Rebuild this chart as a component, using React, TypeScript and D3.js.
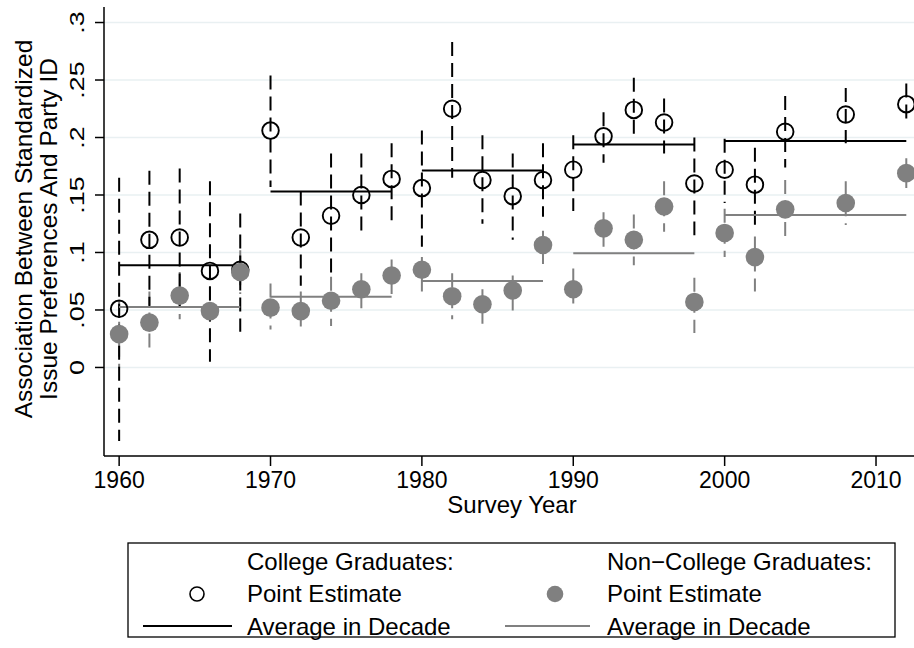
import React from "react";
import * as d3 from "d3";

// Survey years (ANES waves)
const years = [1960, 1962, 1964, 1966, 1968, 1970, 1972, 1974, 1976, 1978, 1980, 1982, 1984, 1986, 1988, 1990, 1992, 1994, 1996, 1998, 2000, 2002, 2004, 2008, 2012];

// College graduates: point estimate and confidence bounds
const collegeEst = [0.051, 0.111, 0.113, 0.084, 0.085, 0.206, 0.113, 0.132, 0.150, 0.164, 0.156, 0.225, 0.163, 0.149, 0.163, 0.172, 0.201, 0.224, 0.213, 0.160, 0.172, 0.159, 0.205, 0.220, 0.229];
const collegeLo = [-0.064, 0.052, 0.053, 0.005, 0.031, 0.157, 0.071, 0.077, 0.114, 0.128, 0.105, 0.165, 0.125, 0.111, 0.131, 0.136, 0.178, 0.198, 0.186, 0.115, 0.143, 0.124, 0.174, 0.195, 0.211];
const collegeHi = [0.165, 0.171, 0.173, 0.162, 0.134, 0.254, 0.153, 0.186, 0.186, 0.195, 0.206, 0.283, 0.202, 0.186, 0.195, 0.202, 0.222, 0.252, 0.234, 0.200, 0.199, 0.191, 0.236, 0.243, 0.247];

// Non-college graduates: point estimate and confidence bounds
const nonCollegeEst = [0.029, 0.039, 0.0625, 0.049, 0.083, 0.052, 0.049, 0.058, 0.068, 0.080, 0.085, 0.062, 0.055, 0.067, 0.1065, 0.068, 0.121, 0.111, 0.140, 0.057, 0.117, 0.096, 0.1375, 0.143, 0.169];
const nonCollegeLo = [0.000, 0.012, 0.042, 0.028, 0.064, 0.033, 0.034, 0.036, 0.0515, 0.064, 0.066, 0.042, 0.038, 0.049, 0.090, 0.050, 0.105, 0.089, 0.118, 0.030, 0.096, 0.066, 0.1115, 0.124, 0.156];
const nonCollegeHi = [0.058, 0.066, 0.083, 0.070, 0.102, 0.073, 0.066, 0.079, 0.082, 0.094, 0.096, 0.082, 0.068, 0.080, 0.119, 0.086, 0.135, 0.133, 0.162, 0.078, 0.138, 0.114, 0.163, 0.162, 0.182];

// Decade groupings used for the averages (first and last survey year in each)
const decadeStart = [1960, 1970, 1980, 1990, 2000];
const decadeEnd = [1968, 1978, 1988, 1998, 2012];

const yTicks = [0, 0.05, 0.1, 0.15, 0.2, 0.25, 0.3];
const yTickLabels = ["0", ".05", ".1", ".15", ".2", ".25", ".3"];
const xTicks = [1960, 1970, 1980, 1990, 2000, 2010];

const W = 914;
const H = 648;
const FONT = "'Liberation Sans', Arial, Helvetica, sans-serif";
const GRAY = "#808080";

const x = d3.scaleLinear().domain([1959, 2013.5]).range([104, 929]);
const y = d3.scaleLinear().domain([-0.077, 0.3135]).range([456, 7]);

function decadeMeans(values: number[]) {
  return decadeStart.map((s, i) => {
    const vals = years
      .map((yr, j) => (yr >= s && yr <= decadeEnd[i] ? values[j] : null))
      .filter((v) => v !== null) as number[];
    return { x1: s, x2: decadeEnd[i], v: d3.mean(vals) as number };
  });
}

export default function App() {
  const collegeAvg = decadeMeans(collegeEst);
  const nonCollegeAvg = decadeMeans(nonCollegeEst);
  const dash = "14 7";
  const plotRight = W;

  return (
    <svg
      width={W}
      height={H}
      style={{ position: "absolute", left: 0, top: 0, background: "#fff" }}
      fontFamily={FONT}
    >
      <rect x={0} y={0} width={W} height={H} fill="#fff" />

      {/* horizontal grid */}
      {yTicks.map((t) => (
        <line key={"g" + t} x1={104} x2={plotRight} y1={y(t)} y2={y(t)} stroke="#e9f0f2" strokeWidth={1.6} />
      ))}

      {/* non-college confidence intervals */}
      {years.map((yr, i) => (
        <line
          key={"nci" + yr}
          x1={x(yr)}
          x2={x(yr)}
          y1={y(nonCollegeHi[i])}
          y2={y(nonCollegeLo[i])}
          stroke={GRAY}
          strokeWidth={2}
          strokeDasharray={dash}
        />
      ))}

      {/* college confidence intervals */}
      {years.map((yr, i) => (
        <line
          key={"cci" + yr}
          x1={x(yr)}
          x2={x(yr)}
          y1={y(collegeHi[i])}
          y2={y(collegeLo[i])}
          stroke="#000"
          strokeWidth={2}
          strokeDasharray={dash}
        />
      ))}

      {/* decade averages */}
      {nonCollegeAvg.map((d) => (
        <line key={"na" + d.x1} x1={x(d.x1)} x2={x(d.x2)} y1={y(d.v)} y2={y(d.v)} stroke={GRAY} strokeWidth={2} />
      ))}
      {collegeAvg.map((d) => (
        <line key={"ca" + d.x1} x1={x(d.x1)} x2={x(d.x2)} y1={y(d.v)} y2={y(d.v)} stroke="#000" strokeWidth={2} />
      ))}

      {/* point estimates */}
      {years.map((yr, i) => (
        <circle key={"cp" + yr} cx={x(yr)} cy={y(collegeEst[i])} r={8.3} fill="none" stroke="#000" strokeWidth={1.9} />
      ))}
      {years.map((yr, i) => (
        <circle key={"np" + yr} cx={x(yr)} cy={y(nonCollegeEst[i])} r={9.3} fill={GRAY} />
      ))}

      {/* y axis */}
      <line x1={104} x2={104} y1={7} y2={456} stroke="#000" strokeWidth={1.5} />
      {yTicks.map((t, i) => (
        <g key={"yt" + t}>
          <line x1={95} x2={104} y1={y(t)} y2={y(t)} stroke="#000" strokeWidth={1.5} />
          <text
            transform={`translate(84, ${y(t)}) rotate(-90) scale(1.28, 1)`}
            textAnchor="middle"
            fontSize={21}
            fill="#000"
          >
            {yTickLabels[i]}
          </text>
        </g>
      ))}
      <text x={32} y={229} transform="rotate(-90, 32, 229)" textAnchor="middle" fontSize={24.5} fill="#000">
        Association Between Standardized
      </text>
      <text x={57} y={229} transform="rotate(-90, 57, 229)" textAnchor="middle" fontSize={24.5} fill="#000">
        Issue Preferences And Party ID
      </text>

      {/* x axis */}
      <line x1={104} x2={plotRight} y1={456} y2={456} stroke="#000" strokeWidth={1.5} />
      {xTicks.map((t) => (
        <g key={"xt" + t}>
          <line x1={x(t)} x2={x(t)} y1={456} y2={466} stroke="#000" strokeWidth={1.5} />
          <text x={x(t)} y={488} textAnchor="middle" fontSize={23} fill="#000">
            {t}
          </text>
        </g>
      ))}
      <text x={512} y={513} textAnchor="middle" fontSize={24} fill="#000">
        Survey Year
      </text>

      {/* legend */}
      <rect x={128} y={543} width={767} height={94} fill="#fff" stroke="#000" strokeWidth={1.3} />
      <g fontSize={24} fill="#000">
        <text x={247} y={570}>College Graduates:</text>
        <text x={247} y={602}>Point Estimate</text>
        <text x={247} y={635}>Average in Decade</text>
        <text x={607} y={570}>Non−College Graduates:</text>
        <text x={607} y={602}>Point Estimate</text>
        <text x={607} y={635}>Average in Decade</text>
      </g>
      <circle cx={197} cy={594} r={7} fill="none" stroke="#000" strokeWidth={1.6} />
      <circle cx={555} cy={594} r={8.3} fill={GRAY} />
      <line x1={143} x2={232} y1={626} y2={626} stroke="#000" strokeWidth={2} />
      <line x1={505} x2={590} y1={626} y2={626} stroke={GRAY} strokeWidth={2} />
    </svg>
  );
}
